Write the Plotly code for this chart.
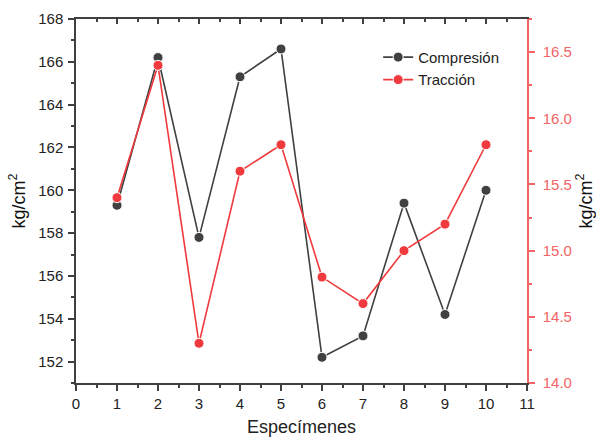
import plotly.graph_objects as go

especimenes = [1, 2, 3, 4, 5, 6, 7, 8, 9, 10]
compresion = [159.3, 166.2, 157.8, 165.3, 166.6, 152.2, 153.2, 159.4, 154.2, 160.0]
traccion = [15.4, 16.4, 14.3, 15.6, 15.8, 14.8, 14.6, 15.0, 15.2, 15.8]

GRAY = "#404040"
RED = "#f03a3d"
RED_AX = "#f26466"
FONT = "Liberation Sans, Arial, sans-serif"

fig = go.Figure()
fig.add_trace(go.Scatter(
    x=especimenes, y=compresion, name="Compresión", mode="lines+markers",
    line=dict(color=GRAY, width=1.6),
    marker=dict(color=GRAY, size=10, line=dict(color="white", width=1)),
    xaxis="x", yaxis="y"))
fig.add_trace(go.Scatter(
    x=especimenes, y=traccion, name="Tracción", mode="lines+markers",
    line=dict(color=RED, width=1.6),
    marker=dict(color=RED, size=10, line=dict(color="white", width=1)),
    xaxis="x", yaxis="y2"))
# invisible helper for the top axis
fig.add_trace(go.Scatter(x=[0, 11], y=[151, 151], mode="markers", marker=dict(opacity=0),
                         showlegend=False, hoverinfo="skip", xaxis="x2", yaxis="y"))

fig.update_layout(
    width=596, height=439,
    margin=dict(l=76, r=69, t=19, b=56),
    paper_bgcolor="white", plot_bgcolor="white",
    font=dict(family=FONT, size=15, color="#222"),
    showlegend=True,
    legend=dict(x=0.67, y=0.94, xanchor="left", yanchor="top",
                bgcolor="rgba(0,0,0,0)", font=dict(size=15, color="#222"),
                tracegroupgap=0, itemwidth=30),
    xaxis=dict(range=[0, 11], tickmode="linear", tick0=0, dtick=1, automargin=False,
               showgrid=False, zeroline=False, showline=True, linecolor=GRAY, linewidth=1.5,
               ticks="outside", ticklen=6, tickcolor=GRAY, tickwidth=1.5,
               minor=dict(ticks="outside", ticklen=3, dtick=0.5, tickcolor=GRAY, tickwidth=1.5),
               tickfont=dict(size=15, color="#222"),
               title=dict(text="Especímenes", font=dict(size=18, color="#222"), standoff=10)),
    xaxis2=dict(range=[0, 11], overlaying="x", side="top", tickmode="linear", tick0=0, dtick=1,
                automargin=False,
                showgrid=False, zeroline=False, showline=True, linecolor=GRAY, linewidth=1.5,
                ticks="inside", ticklen=5, tickcolor=GRAY, tickwidth=1.5, showticklabels=False,
                minor=dict(ticks="inside", ticklen=3, dtick=0.5, tickcolor=GRAY, tickwidth=1.5)),
    yaxis=dict(range=[151, 168], tickmode="linear", tick0=152, dtick=2, automargin=False,
               showgrid=False, zeroline=False, showline=True, linecolor=GRAY, linewidth=1.5,
               ticks="outside", ticklen=6, tickcolor=GRAY, tickwidth=1.5,
               minor=dict(ticks="outside", ticklen=3, dtick=1, tickcolor=GRAY, tickwidth=1.5),
               tickfont=dict(size=15, color="#222"), ticklabelstandoff=2,
               title=dict(text="kg/cm<sup>2</sup>", font=dict(size=18, color="#111"), standoff=8)),
    yaxis2=dict(range=[14.0, 16.75], overlaying="y", side="right", tickmode="linear",
                tick0=14.0, dtick=0.5, tickformat=".1f", automargin=False,
                showgrid=False, zeroline=False, showline=True, linecolor=RED_AX, linewidth=1.5,
                ticks="outside", ticklen=6, tickcolor=RED_AX, tickwidth=1.5,
                minor=dict(ticks="outside", ticklen=3, dtick=0.25, tickcolor=RED_AX, tickwidth=1.5),
                tickfont=dict(size=15, color=RED_AX), ticklabelstandoff=5,
                title=dict(text="kg/cm<sup>2</sup>", font=dict(size=18, color="#111"), standoff=8)),
)

fig.write_html("out.html", config={"displayModeBar": False},
               post_script="document.body.style.margin='0';")
